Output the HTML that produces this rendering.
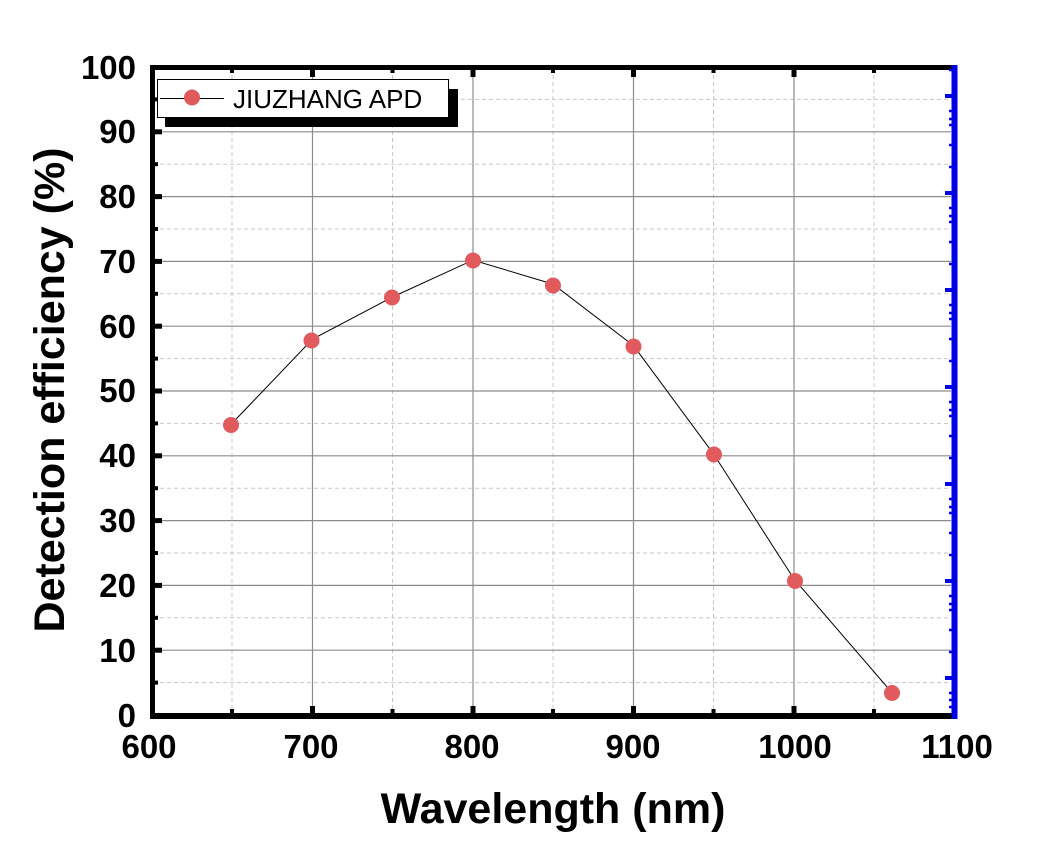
<!DOCTYPE html>
<html><head><meta charset="utf-8"><style>html,body{margin:0;padding:0;background:#fff}svg{display:block}</style></head><body>
<svg width="1064" height="863" viewBox="0 0 1064 863" xmlns="http://www.w3.org/2000/svg" font-family="Liberation Sans, Arial, sans-serif">
<rect width="1064" height="863" fill="#fff"/>
<g stroke="#c8c8c8" stroke-width="1" stroke-dasharray="4,3">
<line x1="153" x2="951" y1="682.6" y2="682.6"/><line x1="153" x2="951" y1="617.8" y2="617.8"/><line x1="153" x2="951" y1="553" y2="553"/><line x1="153" x2="951" y1="488.2" y2="488.2"/><line x1="153" x2="951" y1="423.4" y2="423.4"/><line x1="153" x2="951" y1="358.6" y2="358.6"/><line x1="153" x2="951" y1="293.8" y2="293.8"/><line x1="153" x2="951" y1="229" y2="229"/><line x1="153" x2="951" y1="164.2" y2="164.2"/><line x1="153" x2="951" y1="99.4" y2="99.4"/>
<line x1="232" x2="232" y1="68" y2="715"/><line x1="392.5" x2="392.5" y1="68" y2="715"/><line x1="553" x2="553" y1="68" y2="715"/><line x1="713.5" x2="713.5" y1="68" y2="715"/><line x1="874" x2="874" y1="68" y2="715"/>
</g>
<g stroke="#8c8c8c" stroke-width="1.2">
<line x1="153" x2="951" y1="650.2" y2="650.2"/><line x1="153" x2="951" y1="585.4" y2="585.4"/><line x1="153" x2="951" y1="520.6" y2="520.6"/><line x1="153" x2="951" y1="455.8" y2="455.8"/><line x1="153" x2="951" y1="391" y2="391"/><line x1="153" x2="951" y1="326.2" y2="326.2"/><line x1="153" x2="951" y1="261.4" y2="261.4"/><line x1="153" x2="951" y1="196.6" y2="196.6"/><line x1="153" x2="951" y1="131.8" y2="131.8"/>
<line x1="312.5" x2="312.5" y1="68" y2="715"/><line x1="473" x2="473" y1="68" y2="715"/><line x1="633.5" x2="633.5" y1="68" y2="715"/><line x1="794" x2="794" y1="68" y2="715"/>
</g>
<g stroke="#000" stroke-width="5">
<line x1="153" x2="162" y1="650.2" y2="650.2"/><line x1="153" x2="162" y1="585.4" y2="585.4"/><line x1="153" x2="162" y1="520.6" y2="520.6"/><line x1="153" x2="162" y1="455.8" y2="455.8"/><line x1="153" x2="162" y1="391" y2="391"/><line x1="153" x2="162" y1="326.2" y2="326.2"/><line x1="153" x2="162" y1="261.4" y2="261.4"/><line x1="153" x2="162" y1="196.6" y2="196.6"/><line x1="153" x2="162" y1="131.8" y2="131.8"/>
<line x1="312.5" x2="312.5" y1="715" y2="706"/><line x1="473" x2="473" y1="715" y2="706"/><line x1="633.5" x2="633.5" y1="715" y2="706"/><line x1="794" x2="794" y1="715" y2="706"/>
<line x1="312.5" x2="312.5" y1="68" y2="77"/><line x1="473" x2="473" y1="68" y2="77"/><line x1="633.5" x2="633.5" y1="68" y2="77"/><line x1="794" x2="794" y1="68" y2="77"/>
</g>
<g stroke="#000" stroke-width="4">
<line x1="153" x2="158" y1="682.6" y2="682.6"/><line x1="153" x2="158" y1="617.8" y2="617.8"/><line x1="153" x2="158" y1="553" y2="553"/><line x1="153" x2="158" y1="488.2" y2="488.2"/><line x1="153" x2="158" y1="423.4" y2="423.4"/><line x1="153" x2="158" y1="358.6" y2="358.6"/><line x1="153" x2="158" y1="293.8" y2="293.8"/><line x1="153" x2="158" y1="229" y2="229"/><line x1="153" x2="158" y1="164.2" y2="164.2"/><line x1="153" x2="158" y1="99.4" y2="99.4"/>
<line x1="232" x2="232" y1="715" y2="709"/><line x1="392.5" x2="392.5" y1="715" y2="709"/><line x1="553" x2="553" y1="715" y2="709"/><line x1="713.5" x2="713.5" y1="715" y2="709"/><line x1="874" x2="874" y1="715" y2="709"/>
<line x1="232" x2="232" y1="68" y2="73"/><line x1="392.5" x2="392.5" y1="68" y2="73"/><line x1="553" x2="553" y1="68" y2="73"/><line x1="713.5" x2="713.5" y1="68" y2="73"/><line x1="874" x2="874" y1="68" y2="73"/>
</g>
<line x1="150" x2="957" y1="67.5" y2="67.5" stroke="#000" stroke-width="5"/>
<line x1="150" x2="957" y1="716" y2="716" stroke="#000" stroke-width="6"/>
<line x1="152.5" x2="152.5" y1="65" y2="719" stroke="#000" stroke-width="5"/>
<line x1="954.5" x2="954.5" y1="65" y2="719" stroke="#0000e6" stroke-width="6"/>
<g stroke="#0000e6" stroke-width="4">
<line x1="945" x2="954" y1="678" y2="678"/><line x1="945" x2="954" y1="581" y2="581"/><line x1="945" x2="954" y1="484" y2="484"/><line x1="945" x2="954" y1="387" y2="387"/><line x1="945" x2="954" y1="290" y2="290"/><line x1="945" x2="954" y1="193" y2="193"/><line x1="945" x2="954" y1="96" y2="96"/>
</g>
<g stroke="#0000e6" stroke-width="2.5">
<line x1="949" x2="954" y1="707" y2="707"/><line x1="949" x2="954" y1="700" y2="700"/><line x1="949" x2="954" y1="693" y2="693"/>
<line x1="949" x2="954" y1="652" y2="652"/><line x1="949" x2="954" y1="630" y2="630"/><line x1="949" x2="954" y1="610" y2="610"/><line x1="949" x2="954" y1="604" y2="604"/><line x1="949" x2="954" y1="596" y2="596"/>
<line x1="949" x2="954" y1="555" y2="555"/><line x1="949" x2="954" y1="533" y2="533"/><line x1="949" x2="954" y1="513" y2="513"/><line x1="949" x2="954" y1="507" y2="507"/><line x1="949" x2="954" y1="499" y2="499"/>
<line x1="949" x2="954" y1="458" y2="458"/><line x1="949" x2="954" y1="436" y2="436"/><line x1="949" x2="954" y1="416" y2="416"/><line x1="949" x2="954" y1="410" y2="410"/><line x1="949" x2="954" y1="402" y2="402"/>
<line x1="949" x2="954" y1="361" y2="361"/><line x1="949" x2="954" y1="339" y2="339"/><line x1="949" x2="954" y1="319" y2="319"/><line x1="949" x2="954" y1="313" y2="313"/><line x1="949" x2="954" y1="305" y2="305"/>
<line x1="949" x2="954" y1="264" y2="264"/><line x1="949" x2="954" y1="242" y2="242"/><line x1="949" x2="954" y1="222" y2="222"/><line x1="949" x2="954" y1="216" y2="216"/><line x1="949" x2="954" y1="208" y2="208"/>
<line x1="949" x2="954" y1="167" y2="167"/><line x1="949" x2="954" y1="145" y2="145"/><line x1="949" x2="954" y1="125" y2="125"/><line x1="949" x2="954" y1="119" y2="119"/><line x1="949" x2="954" y1="111" y2="111"/>
<line x1="949" x2="954" y1="70" y2="70"/>
</g>
<polyline fill="none" stroke="#000" stroke-width="1" points="232,423.4 312.5,339.2 392.5,297 473,260.1 553,284.1 633.5,345.6 713.5,453.9 794,579 890,690.4"/>
<g fill="#e05a5e">
<circle cx="231" cy="425" r="8"/><circle cx="311.5" cy="340.5" r="8"/><circle cx="392" cy="297.5" r="8"/><circle cx="473" cy="260.5" r="8"/><circle cx="553" cy="285.5" r="8"/><circle cx="633.5" cy="346.5" r="8"/><circle cx="714" cy="454.5" r="8"/><circle cx="795" cy="581" r="8"/><circle cx="892" cy="693" r="8"/>
</g>
<rect x="165" y="89" width="293" height="38" fill="#000"/>
<rect x="157.5" y="79.5" width="291" height="38" fill="#fff" stroke="#000" stroke-width="1"/>
<line x1="160" x2="224" y1="98.5" y2="98.5" stroke="#000" stroke-width="1"/>
<circle cx="192" cy="97.5" r="8" fill="#e05a5e"/>
<text x="233" y="108" font-size="26" fill="#000">JIUZHANG APD</text>
<g font-size="33" font-weight="bold" text-anchor="end" fill="#000">
<text x="136" y="727">0</text><text x="136" y="662">10</text><text x="136" y="597">20</text><text x="136" y="532">30</text><text x="136" y="467">40</text><text x="136" y="402">50</text><text x="136" y="338">60</text><text x="136" y="273">70</text><text x="136" y="208">80</text><text x="136" y="143">90</text><text x="136" y="79">100</text>
</g>
<g font-size="33" font-weight="bold" text-anchor="middle" fill="#000">
<text x="149" y="758">600</text><text x="311" y="758">700</text><text x="472" y="758">800</text><text x="633" y="758">900</text><text x="795" y="758">1000</text><text x="957" y="758">1100</text>
</g>
<text x="553" y="823" font-size="43" font-weight="bold" text-anchor="middle">Wavelength (nm)</text>
<text transform="translate(64,390) rotate(-90)" font-size="43" font-weight="bold" text-anchor="middle">Detection efficiency (%)</text>
</svg>
</body></html>
